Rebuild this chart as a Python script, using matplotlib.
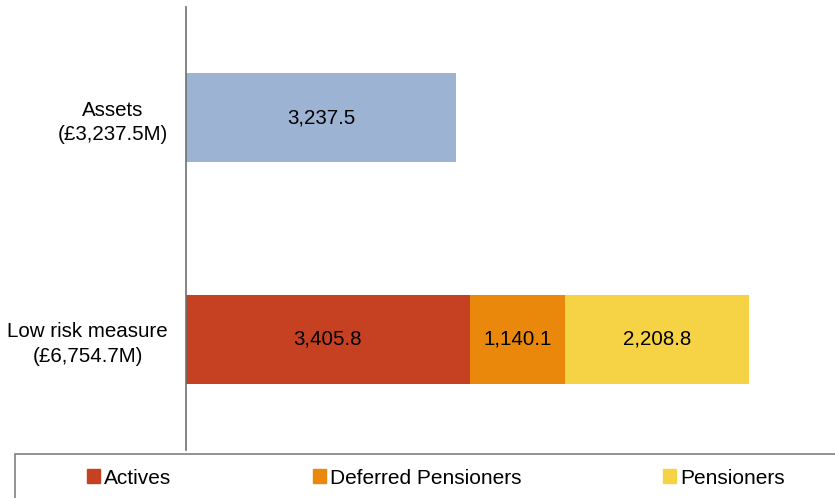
import matplotlib
matplotlib.use("Agg")
import matplotlib.pyplot as plt
from matplotlib.patches import Rectangle, Patch

plt.rcParams['font.family'] = ['Liberation Sans', 'DejaVu Sans']

categories = ["Assets\n(£3,237.5M)", "Low risk measure\n(£6,754.7M)"]
assets = [3237.5]
actives = [3405.8]
deferred = [1140.1]
pensioners = [2208.8]

c_assets = "#9db3d3"
c_act = "#c64121"
c_def = "#e9880b"
c_pen = "#f6d245"

fs = 14.8
fig = plt.figure(figsize=(8.35, 4.98), dpi=100)
ax = fig.add_axes([186/835, 1-450/498, (835-186)/835, (450-7)/498])

y_assets, y_low = 1, 0
bh = 0.4
b = ax.barh([y_assets], assets, height=bh, color=c_assets)
ax.bar_label(b, labels=[f"{v:,.1f}" for v in assets], label_type='center', fontsize=fs)

left = 0
for vals, col in [(actives, c_act), (deferred, c_def), (pensioners, c_pen)]:
    bb = ax.barh([y_low], vals, left=[left], height=bh, color=col)
    ax.bar_label(bb, labels=[f"{v:,.1f}" for v in vals], label_type='center', fontsize=fs)
    left += vals[0]

ax.set_ylim(-0.5, 1.5)
ax.set_xlim(0, 7790)
ax.set_yticks([y_assets, y_low])
ax.set_yticklabels(categories, fontsize=fs, ha='right', multialignment='center',
                   linespacing=1.35)
ax.tick_params(axis='y', length=0, pad=13)
ax.set_xticks([])
for s in ['top', 'right', 'bottom']:
    ax.spines[s].set_visible(False)
ax.spines['left'].set_color('#707070')
ax.spines['left'].set_linewidth(1.2)

# legend box
fig.patches.append(Rectangle((15/835, -0.1), 1.0, (498-454)/498 + 0.1,
                             transform=fig.transFigure, fill=False,
                             edgecolor='#808080', linewidth=1.2))
handles = [Patch(color=c_act), Patch(color=c_def), Patch(color=c_pen)]
fig.legend(handles, ["Actives", "Deferred Pensioners", "Pensioners"],
           loc='center left', bbox_to_anchor=(87/835, 1-478/498), ncol=3,
           frameon=False, fontsize=15, handlelength=0.62, handleheight=0.62,
           handletextpad=0.2, columnspacing=6.8, borderpad=0, borderaxespad=0)

fig.savefig("out.png", dpi=100)
